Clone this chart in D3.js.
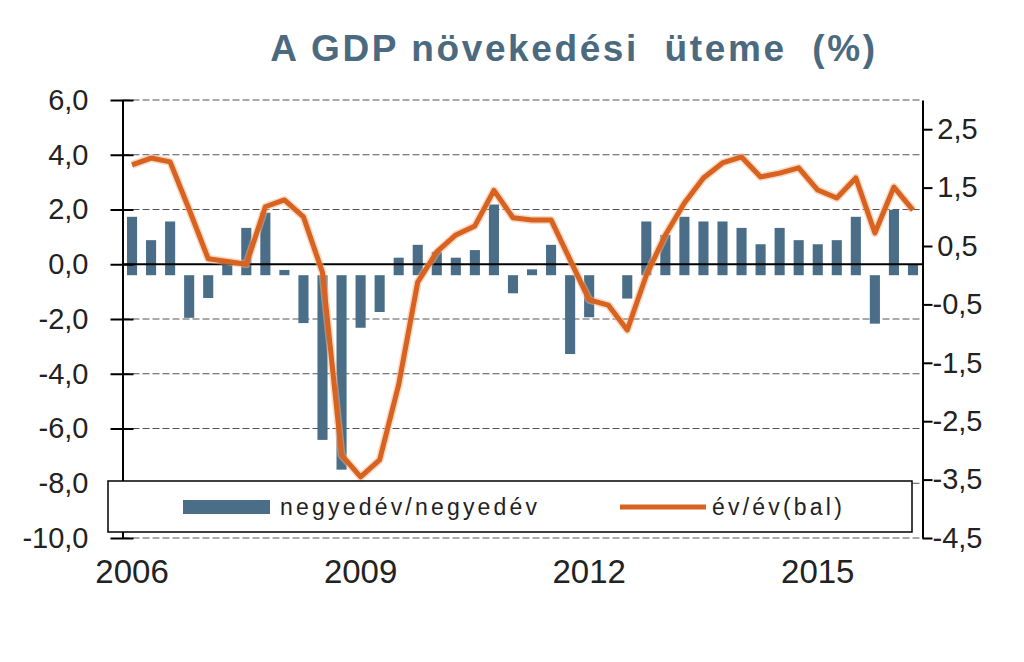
<!DOCTYPE html>
<html>
<head>
<meta charset="utf-8">
<script src="https://cdn.jsdelivr.net/npm/d3@7"></script>
<style>
  html, body { margin: 0; padding: 0; background: #ffffff; }
  svg { display: block; }
  text { font-family: "Liberation Sans", Arial, sans-serif; }
</style>
</head>
<body>
<svg id="chart" width="1024" height="662"></svg>
<script>
// ---- data ----
const quarters = [
  "2006 Q1","2006 Q2","2006 Q3","2006 Q4",
  "2007 Q1","2007 Q2","2007 Q3","2007 Q4",
  "2008 Q1","2008 Q2","2008 Q3","2008 Q4",
  "2009 Q1","2009 Q2","2009 Q3","2009 Q4",
  "2010 Q1","2010 Q2","2010 Q3","2010 Q4",
  "2011 Q1","2011 Q2","2011 Q3","2011 Q4",
  "2012 Q1","2012 Q2","2012 Q3","2012 Q4",
  "2013 Q1","2013 Q2","2013 Q3","2013 Q4",
  "2014 Q1","2014 Q2","2014 Q3","2014 Q4",
  "2015 Q1","2015 Q2","2015 Q3","2015 Q4",
  "2016 Q1","2016 Q2"
];
// quarter-on-quarter growth (right axis)
const qoq = [1.0,0.6,0.92,-0.73,-0.39,0.23,0.81,1.07,0.09,-0.82,-2.82,-3.33,-0.9,-0.63,0.3,0.52,0.4,0.3,0.43,1.21,-0.31,0.1,0.52,-1.35,-0.72,0,-0.4,0.92,0.69,1.0,0.92,0.92,0.81,0.53,0.81,0.6,0.53,0.6,1.0,-0.83,1.12,0.18];
// year-on-year growth (left axis)
const yoy = [3.63,3.88,3.74,2.0,0.2,0.1,0.0,2.1,2.35,1.73,-0.3,-6.97,-7.77,-7.15,-4.4,-0.65,0.45,1.07,1.4,2.7,1.7,1.62,1.62,0.16,-1.3,-1.49,-2.4,-0.4,1.07,2.24,3.15,3.7,3.92,3.19,3.33,3.52,2.71,2.42,3.15,1.14,2.82,1.98];

const leftTickValues = [6,4,2,0,-2,-4,-6,-8,-10];
const leftTickLabels = ["6,0","4,0","2,0","0,0","-2,0","-4,0","-6,0","-8,0","-10,0"];
const rightTickValues = [2.5,1.5,0.5,-0.5,-1.5,-2.5,-3.5,-4.5];
const rightTickLabels = ["2,5","1,5","0,5","-0,5","-1,5","-2,5","-3,5","-4,5"];
const yearLabels = ["2006","2009","2012","2015"];
const yearLabelCats = ["2006 Q1","2009 Q1","2012 Q1","2015 Q1"];

const titleText = "A GDP növekedési  üteme  (%)";
const legendBarText = "negyedév/negyedév";
const legendLineText = "év/év(bal)";

// ---- styles ----
const barColor = "#4b6e88";
const lineColor = "#d8621f";
const titleColor = "#4b6a80";
const textColor = "#222222";

// ---- layout ----
const svg = d3.select("#chart");
const plot = { left: 122.5, right: 922.5, top: 100, bottom: 538 };

const x = d3.scaleBand().domain(quarters).range([plot.left, plot.right]).paddingInner(0.47).paddingOuter(0.235);
const yL = d3.scaleLinear().domain([-10, 6]).range([plot.bottom, plot.top]);
const yR = d3.scaleLinear().domain([-4.5, 3.0]).range([plot.bottom, plot.top]);
const cx = d => x(d) + x.bandwidth() / 2;

// title
svg.append("text")
  .attr("x", 574).attr("y", 61)
  .attr("text-anchor", "middle")
  .style("white-space", "pre")
  .attr("font-size", 37).attr("font-weight", "bold")
  .attr("letter-spacing", "2.6px")
  .attr("fill", titleColor)
  .text(titleText);

// gridlines (left axis ticks, except zero)
svg.append("g").selectAll("line")
  .data(leftTickValues.filter(v => v !== 0))
  .join("line")
  .attr("x1", plot.left).attr("x2", plot.right)
  .attr("y1", d => yL(d)).attr("y2", d => yL(d))
  .attr("stroke", "#555").attr("stroke-width", 1)
  .attr("stroke-dasharray", "7,3");

// bars (right axis)
svg.append("g").selectAll("rect")
  .data(quarters.map((q, i) => ({ q, v: qoq[i] })))
  .join("rect")
  .attr("x", d => x(d.q))
  .attr("width", x.bandwidth())
  .attr("y", d => Math.min(yR(d.v), yR(0)))
  .attr("height", d => Math.abs(yR(d.v) - yR(0)))
  .attr("fill", barColor);

// zero line of left axis
svg.append("line")
  .attr("x1", plot.left).attr("x2", plot.right)
  .attr("y1", yL(0)).attr("y2", yL(0))
  .attr("stroke", "#000").attr("stroke-width", 2);

// yoy line
const lineGen = d3.line().x(d => cx(d.q)).y(d => yL(d.v));
const lineData = quarters.map((q, i) => ({ q, v: yoy[i] }));
svg.append("path")
  .datum(lineData)
  .attr("d", lineGen)
  .attr("fill", "none")
  .attr("stroke", "#f3b48a").attr("stroke-width", 8)
  .attr("stroke-linejoin", "round").attr("opacity", 0.5);
svg.append("path")
  .datum(lineData)
  .attr("d", lineGen)
  .attr("fill", "none")
  .attr("stroke", lineColor).attr("stroke-width", 5)
  .attr("stroke-linejoin", "round");

// left axis
const leftAxis = d3.axisLeft(yL)
  .tickValues(leftTickValues)
  .tickFormat((d, i) => leftTickLabels[i])
  .tickSizeInner(0).tickSizeOuter(0).tickPadding(34);
const gL = svg.append("g").attr("transform", `translate(${plot.left},0)`).call(leftAxis);
gL.select(".domain").attr("stroke", "#000").attr("stroke-width", 2);
gL.selectAll(".tick line").attr("x1", -12).attr("x2", 11).attr("stroke", "#000").attr("stroke-width", 2);
gL.selectAll(".tick text").attr("font-size", 29).attr("fill", textColor)
  .attr("font-family", "'Liberation Sans', Arial, sans-serif");

// right axis
const rightAxis = d3.axisRight(yR)
  .tickValues(rightTickValues)
  .tickFormat((d, i) => rightTickLabels[i])
  .tickSizeInner(10).tickSizeOuter(0).tickPadding(0);
const gR = svg.append("g").attr("transform", `translate(${plot.right},0)`).call(rightAxis);
gR.select(".domain").attr("stroke", "#000").attr("stroke-width", 2);
gR.selectAll(".tick line").attr("stroke", "#000").attr("stroke-width", 2);
gR.selectAll(".tick text").attr("font-size", 29).attr("fill", textColor)
  .attr("text-anchor", "middle").attr("x", 35)
  .attr("font-family", "'Liberation Sans', Arial, sans-serif");

// bottom year labels
const xAxis = d3.axisBottom(x)
  .tickValues(yearLabelCats)
  .tickFormat((d, i) => yearLabels[i])
  .tickSize(0).tickPadding(22);
const gX = svg.append("g").attr("transform", `translate(0,${plot.bottom})`).call(xAxis);
gX.select(".domain").remove();
gX.selectAll(".tick text").attr("font-size", 33).attr("fill", textColor)
  .attr("font-family", "'Liberation Sans', Arial, sans-serif");

// legend
const lg = svg.append("g");
lg.append("rect")
  .attr("x", 108).attr("y", 481).attr("width", 804).attr("height", 51)
  .attr("fill", "#fff").attr("stroke", "#000").attr("stroke-width", 1.5);
lg.append("rect")
  .attr("x", 183).attr("y", 500).attr("width", 87).attr("height", 14)
  .attr("fill", barColor);
lg.append("text")
  .attr("x", 280).attr("y", 515)
  .attr("font-size", 23).attr("letter-spacing", "3.2px").attr("fill", textColor)
  .text(legendBarText);
lg.append("line")
  .attr("x1", 620).attr("x2", 706).attr("y1", 507).attr("y2", 507)
  .attr("stroke", lineColor).attr("stroke-width", 5);
lg.append("text")
  .attr("x", 712).attr("y", 515)
  .attr("font-size", 23).attr("letter-spacing", "3.2px").attr("fill", textColor)
  .text(legendLineText);
</script>
</body>
</html>
